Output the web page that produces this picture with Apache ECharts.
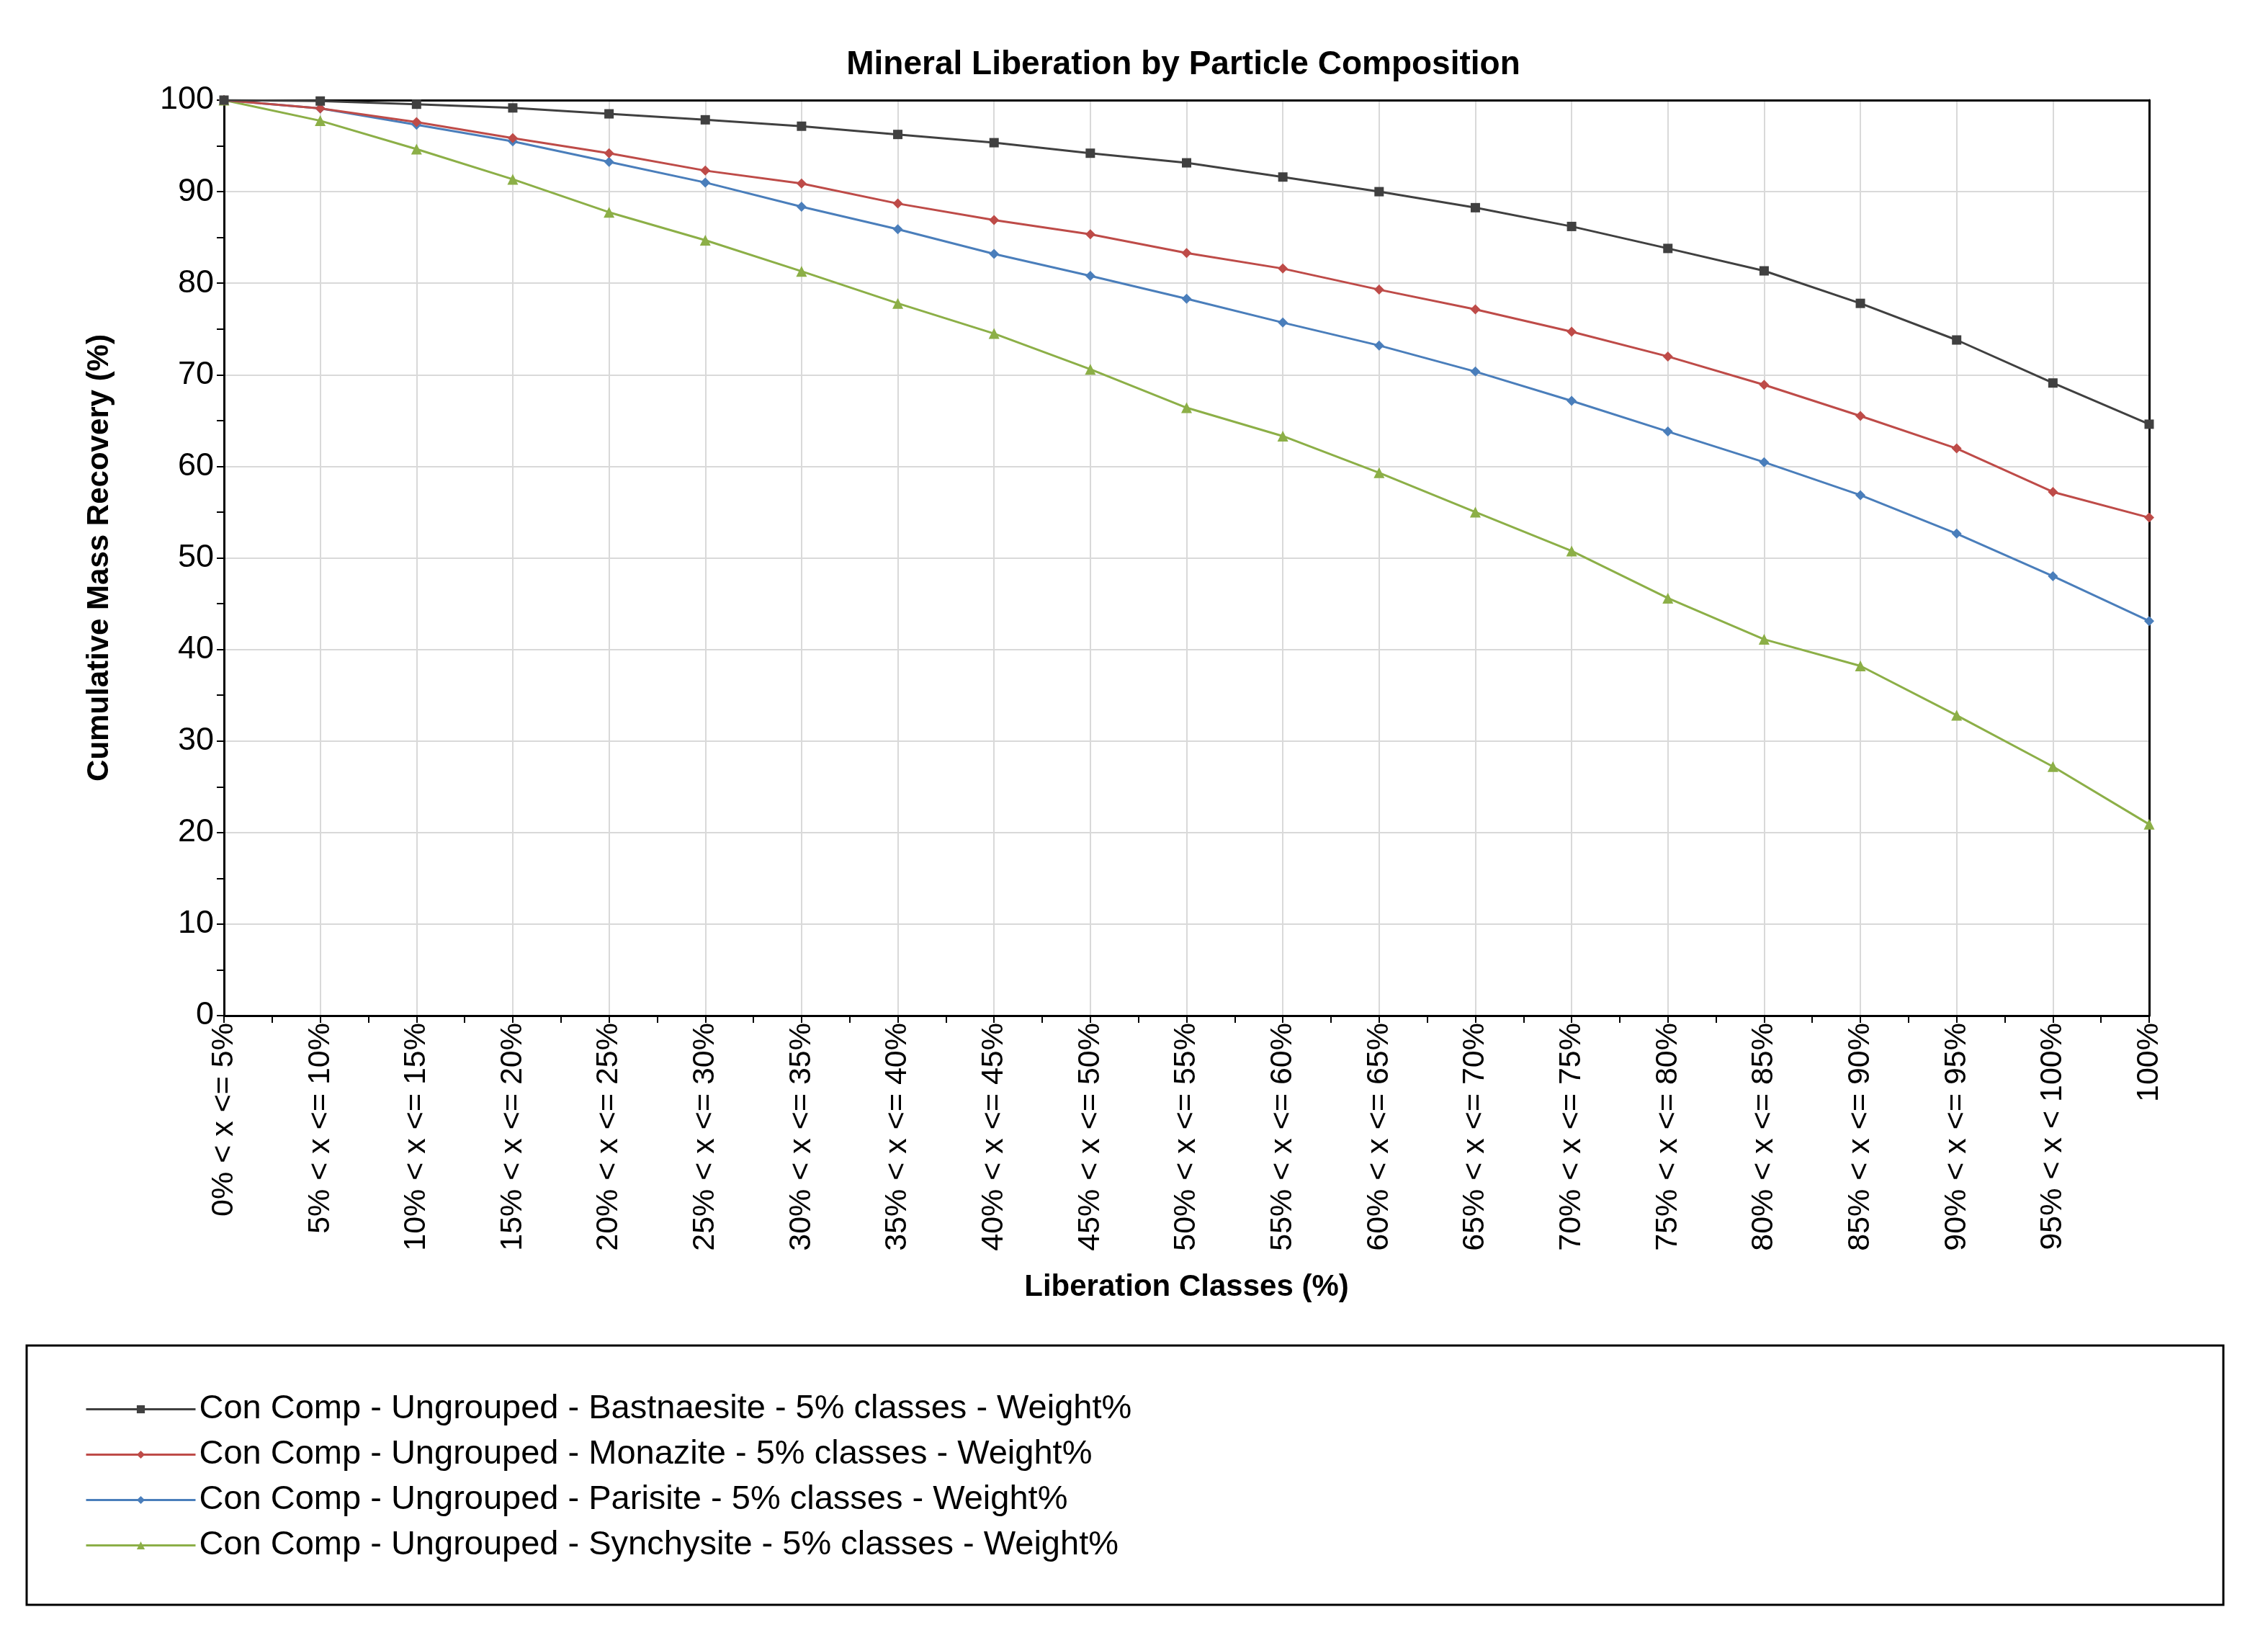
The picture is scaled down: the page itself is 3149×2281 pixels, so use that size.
<!DOCTYPE html>
<html>
<head>
<meta charset="utf-8">
<script src="https://cdn.jsdelivr.net/npm/echarts@6/dist/echarts.min.js"></script>
<style>
html,body{margin:0;padding:0;background:#fff;}
#chart{width:3149px;height:2281px;}
</style>
</head>
<body>
<div id="chart"></div>
<script>
const categories = [
  "0% < x <= 5%", "5% < x <= 10%", "10% < x <= 15%", "15% < x <= 20%",
  "20% < x <= 25%", "25% < x <= 30%", "30% < x <= 35%", "35% < x <= 40%",
  "40% < x <= 45%", "45% < x <= 50%", "50% < x <= 55%", "55% < x <= 60%",
  "60% < x <= 65%", "65% < x <= 70%", "70% < x <= 75%", "75% < x <= 80%",
  "80% < x <= 85%", "85% < x <= 90%", "90% < x <= 95%", "95% < x < 100%",
  "100%"
];
const seriesNames = [
  "Con Comp - Ungrouped - Bastnaesite - 5% classes - Weight%",
  "Con Comp - Ungrouped - Monazite - 5% classes - Weight%",
  "Con Comp - Ungrouped - Parisite - 5% classes - Weight%",
  "Con Comp - Ungrouped - Synchysite - 5% classes - Weight%"
];
const bastnaesite = [100, 99.9, 99.55, 99.15, 98.5, 97.85, 97.15, 96.25, 95.35, 94.2, 93.15, 91.6, 90.0, 88.25, 86.2, 83.8, 81.35, 77.8, 73.8, 69.1, 64.6];
const monazite    = [100, 99.1, 97.6, 95.85, 94.2, 92.3, 90.9, 88.7, 86.9, 85.35, 83.3, 81.6, 79.3, 77.15, 74.7, 72.0, 68.9, 65.5, 61.95, 57.2, 54.4];
const parisite    = [100, 99.1, 97.3, 95.5, 93.25, 91.0, 88.35, 85.9, 83.2, 80.8, 78.3, 75.7, 73.2, 70.35, 67.15, 63.8, 60.45, 56.85, 52.65, 48.0, 43.1];
const synchysite  = [100, 97.75, 94.65, 91.35, 87.75, 84.7, 81.3, 77.8, 74.5, 70.6, 66.4, 63.3, 59.3, 55.0, 50.75, 45.6, 41.1, 38.2, 32.8, 27.2, 20.9];
const yTicks = [0, 10, 20, 30, 40, 50, 60, 70, 80, 90, 100];

const colors = ['#404040', '#BE4B48', '#4A7EBB', '#8CAF47'];
const symbols = ['rect', 'diamond', 'diamond', 'triangle'];
const symbolSizes = [13, 14, 14, 15];
const dataSets = [bastnaesite, monazite, parisite, synchysite];
const FONT = '"Liberation Sans", Arial, sans-serif';

const chart = echarts.init(document.getElementById('chart'), null, {renderer: 'canvas'});

const series = dataSets.map((d, i) => ({
  name: seriesNames[i],
  type: 'line',
  xAxisIndex: 0,
  yAxisIndex: 0,
  data: d,
  symbol: symbols[i],
  symbolSize: symbolSizes[i],
  showAllSymbol: true,
  color: colors[i],
  lineStyle: {color: colors[i], width: 3},
  itemStyle: {color: colors[i]},
  emphasis: {disabled: true},
  animation: false,
  z: 10 - i
}));

const plainAxis = {
  axisTick: {show: false},
  axisLabel: {show: false},
  splitLine: {show: false}
};

chart.setOption({
  backgroundColor: '#ffffff',
  animation: false,
  title: {
    text: 'Mineral Liberation by Particle Composition',
    left: 1643,
    top: 67,
    padding: 0,
    textAlign: 'center',
    textStyle: {fontFamily: FONT, fontSize: 46, fontWeight: 'bold', color: '#000'}
  },
  grid: {
    left: 311, right: 165, top: 139, bottom: 871,
    show: false,
    containLabel: false
  },
  legend: {
    orient: 'vertical',
    left: 118,
    top: 1933,
    padding: 0,
    itemWidth: 152,
    itemHeight: 14,
    itemGap: 16,
    data: seriesNames,
    lineStyle: {width: 3},
    textStyle: {fontFamily: FONT, fontSize: 47, color: '#000', lineHeight: 46}
  },
  xAxis: [
    {
      type: 'category',
      data: categories,
      boundaryGap: false,
      position: 'bottom',
      axisLine: {show: true, lineStyle: {color: '#000', width: 3}},
      axisTick: {show: true, interval: 0, length: 10, inside: false, lineStyle: {color: '#000', width: 2}},
      axisLabel: {
        show: true, interval: 0, rotate: 90, margin: 10,
        fontFamily: FONT, fontSize: 43, color: '#000'
      },
      splitLine: {show: true, interval: 0, lineStyle: {color: '#D9D9D9', width: 2}},
      name: 'Liberation Classes (%)',
      nameLocation: 'middle',
      nameGap: 356,
      nameTextStyle: {fontFamily: FONT, fontSize: 42, fontWeight: 'bold', color: '#000'}
    },
    {
      type: 'value',
      min: 0, max: categories.length - 1, interval: 1,
      position: 'bottom',
      axisLine: {show: false},
      axisTick: {show: false},
      axisLabel: {show: false},
      splitLine: {show: false},
      minorTick: {show: true, splitNumber: 2, length: 10, lineStyle: {color: '#000', width: 2}},
      minorSplitLine: {show: false}
    },
    Object.assign({
      type: 'value',
      min: 0, max: 1,
      position: 'top',
      axisLine: {show: true, onZero: false, lineStyle: {color: '#000', width: 3}}
    }, plainAxis)
  ],
  yAxis: [
    {
      type: 'value',
      min: yTicks[0], max: yTicks[yTicks.length - 1], interval: 10,
      position: 'left',
      axisLine: {show: true, onZero: false, lineStyle: {color: '#000', width: 3}},
      axisTick: {show: true, length: 10, inside: false, lineStyle: {color: '#000', width: 2}},
      minorTick: {show: true, splitNumber: 2, length: 10, lineStyle: {color: '#000', width: 2}},
      axisLabel: {show: true, margin: 14, fontFamily: FONT, fontSize: 45, color: '#000'},
      splitLine: {show: true, lineStyle: {color: '#D9D9D9', width: 2}},
      name: 'Cumulative Mass Recovery (%)',
      nameLocation: 'middle',
      nameGap: 152,
      nameTextStyle: {fontFamily: FONT, fontSize: 42, fontWeight: 'bold', color: '#000'}
    },
    Object.assign({
      type: 'value',
      min: 0, max: 1,
      position: 'right',
      axisLine: {show: true, onZero: false, lineStyle: {color: '#000', width: 3}}
    }, plainAxis)
  ],
  graphic: [
    {
      type: 'rect',
      shape: {x: 37, y: 1868, width: 3050, height: 360},
      style: {fill: 'none', stroke: '#000', lineWidth: 3},
      silent: true
    }
  ],
  series: series
});
</script>
</body>
</html>
